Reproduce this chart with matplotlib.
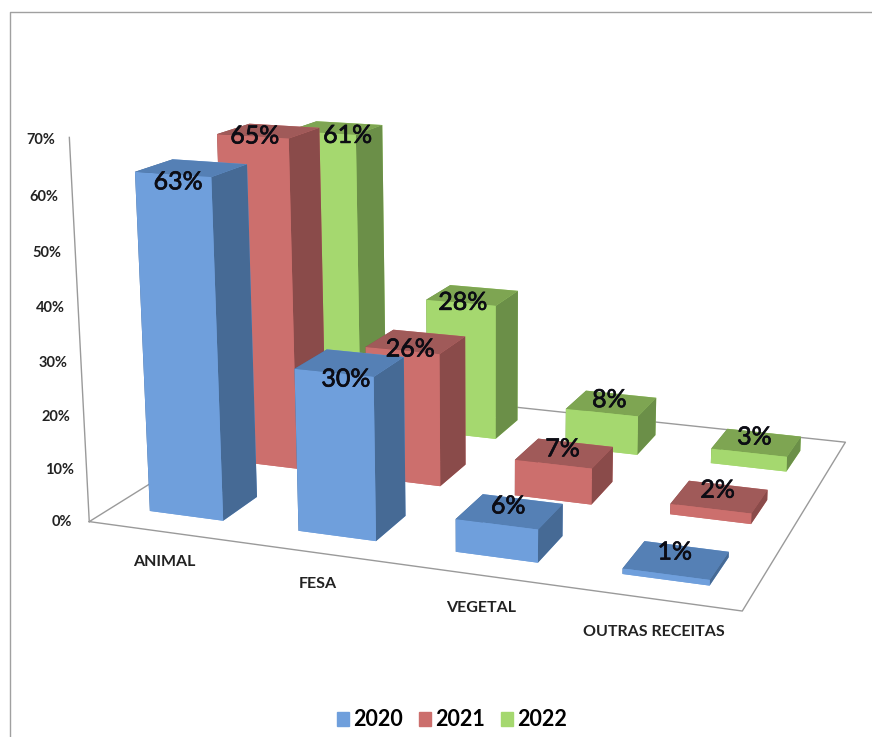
import matplotlib
matplotlib.use('Agg')
import matplotlib.pyplot as plt
import matplotlib.patheffects as pe
from matplotlib.patches import Patch
from matplotlib.lines import Line2D

plt.rcParams['font.family'] = ['Lato', 'DejaVu Sans']

categorias = ['ANIMAL', 'FESA', 'VEGETAL', 'OUTRAS RECEITAS']
anos = ['2020', '2021', '2022']
v2020 = [63, 30, 6, 1]
v2021 = [65, 26, 7, 2]
v2022 = [61, 28, 8, 3]
ticks = [0, 10, 20, 30, 40, 50, 60, 70]

valores = [v2020, v2021, v2022]
# frente, lado, topo
cores = [('#6F9FDC', '#466A95', '#5580B5'),
         ('#CC6F6D', '#8A4B4A', '#A05A59'),
         ('#A5D86F', '#6B8F48', '#7EA552')]
# rótulos fora do padrão: (série, categoria) -> (dx, dz)
ajuste = {(0, 0): (0.03, 0), (1, 0): (0.02, 1.5), (2, 0): (0.19, 1), (0, 1): (0.02, -2.2),
          (1, 1): (0, -1), (2, 1): (-0.03, -1)}

fig = plt.figure(figsize=(8.72, 7.37), dpi=100)
ax = fig.add_axes([0.048, -0.018, 1.0, 872 / 737], projection='3d', computed_zorder=False)
ax.patch.set_alpha(0)
ax.view_init(elev=14, azim=-70)
ax.set_proj_type('persp', focal_length=0.42)
ax.set_box_aspect((1.5, 1.16, 0.875), zoom=0.992)
ax.set_axis_off()

larg = 0.5
prof = 0.44
x0 = 0.25
y0 = 0.28

# chão e eixo
cinza = '#9A9A9A'
ax.plot([0, 4, 4, 0, 0], [0, 0, 3, 3, 0], [0, 0, 0, 0, 0], color=cinza, lw=1, zorder=1)
ax.plot([0, 0], [0, 0], [0, 70], color=cinza, lw=1, zorder=1)

for s in [2, 1, 0]:
    frente, lado, topo = cores[s]
    for c in range(4):
        v = valores[s][c]
        face = [frente, topo, frente, frente, lado, lado]
        ax.bar3d(c + x0, s + y0, 0, larg, prof, v, color=face,
                 shade=False, linewidth=0, zorder=10 + (2 - s) * 10 + c)
        dx, dz = ajuste.get((s, c), (0, 0))
        # rótulo mais para o fundo do topo nas barras baixas
        t = ax.text(c + x0 + larg / 2 - 0.03 + dx, s + y0 + 0.05 + 0.25 * (1 - v / 65),
                    v + 0.5 - 2.2 * v / 65 + dz,
                    f'{v}%', ha='center', va='center', fontsize=18, color='#0C0C14', zorder=100)
        t.set_path_effects([pe.withStroke(linewidth=0.5, foreground='#0C0C14')])

for t in ticks:
    ax.text(-0.19, 0, t - 0.8, f'{t}%', ha='center', va='center', fontsize=10.5,
            fontweight='bold', color='#222222', zorder=2)

for c, nome in enumerate(categorias):
    ax.text(0.75 + c * 0.96, -0.42, 0, nome, ha='center', va='center', fontsize=11.5,
            fontweight='bold', color='#222222', zorder=2)

ax.set_xlim(0, 4, view_margin=0)
ax.set_ylim(0, 3, view_margin=0)
ax.set_zlim(0, 70, view_margin=0)

# moldura cinza da imagem
fig.add_artist(Line2D([10 / 872, 10 / 872, 1], [0, 1 - 11.5 / 737, 1 - 11.5 / 737],
                      color='#A0A0A0', lw=1))

handles = [Patch(color=cores[i][0], label=anos[i]) for i in range(3)]
leg = fig.legend(handles=handles, loc='center', bbox_to_anchor=(452 / 872, 1 - 720 / 737), ncol=3,
                 frameon=False, handlelength=0.55, handleheight=0.6, handletextpad=0.2,
                 columnspacing=0.75, prop={'size': 15.5, 'weight': 'bold'})

fig.savefig('out.png', dpi=100)
